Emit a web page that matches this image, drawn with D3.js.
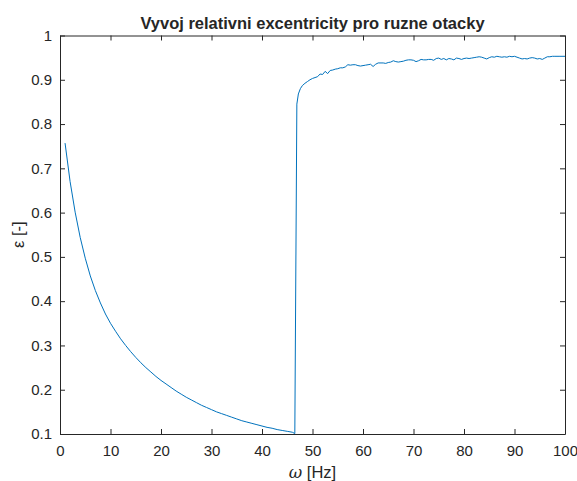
<!DOCTYPE html>
<meta charset="utf-8">
<script src="https://d3js.org/d3.v7.min.js"></script>
<style>
  body { margin: 0; background: #fff; }
  text { font-family: "Liberation Sans", Arial, sans-serif; fill: #262626; }
</style>
<div id="my_dataviz"></div>
<script>

    // frequency [Hz]
    var omega = [1, 2, 3, 4, 5, 6, 7, 8, 9, 10,
        11, 12, 13, 14, 15, 16, 17, 18, 19, 20,
        21, 22, 23, 24, 25, 26, 27, 28, 29, 30,
        31, 32, 33, 34, 35, 36, 37, 38, 39, 40,
        41, 42, 43, 44, 45, 46, 46.5,
        46.9, 47.2, 47.6, 48, 48.5, 49, 49.5, 50, 50.5, 51, 51.5, 52, 52.5, 53, 53.5, 54, 54.5, 55, 55.5,
        56, 56.5, 57, 57.5, 58, 58.5, 59, 59.5, 60, 60.5, 61, 61.5, 62, 62.5, 63, 64, 64.5, 65, 65.5,
        66, 66.5, 67, 67.5, 68, 68.5, 69, 69.5, 70, 70.5, 71, 71.5, 72, 72.5, 73, 73.5, 74, 74.5, 75, 75.5,
        76, 76.5, 77, 77.5, 78, 78.5, 79, 79.5, 80, 80.5, 81, 81.5, 82, 82.5, 83, 83.5, 84, 84.5, 85, 85.5,
        86, 86.5, 87, 87.5, 88, 88.5, 89, 89.5, 90, 90.5, 91, 91.5, 92, 92.5, 93, 93.5, 94, 94.5, 95, 95.5,
        96, 96.5, 97, 97.5, 98, 99, 100];

    // relative eccentricity [-]
    var eps = [0.757, 0.670, 0.601, 0.544, 0.497, 0.457, 0.424, 0.396, 0.371, 0.350,
        0.332, 0.315, 0.300, 0.286, 0.273, 0.261, 0.250, 0.240, 0.230, 0.221,
        0.213, 0.205, 0.197, 0.190, 0.183, 0.177, 0.171, 0.165, 0.160, 0.155,
        0.150, 0.146, 0.142, 0.138, 0.134, 0.130, 0.127, 0.124, 0.121, 0.118,
        0.115, 0.113, 0.110, 0.108, 0.106, 0.104, 0.101,
        0.845, 0.868, 0.880, 0.887, 0.892, 0.896, 0.900, 0.903, 0.905, 0.907, 0.913, 0.912, 0.919, 0.914, 0.921, 0.922, 0.924, 0.925, 0.927,
        0.927, 0.929, 0.934, 0.933, 0.934, 0.934, 0.932, 0.931, 0.932, 0.933, 0.934, 0.935, 0.930, 0.935, 0.938, 0.938, 0.937, 0.939, 0.940,
        0.943, 0.941, 0.940, 0.941, 0.942, 0.944, 0.945, 0.945, 0.944, 0.941, 0.943, 0.946, 0.945, 0.945, 0.946, 0.946, 0.944, 0.948, 0.949, 0.946,
        0.948, 0.945, 0.948, 0.947, 0.945, 0.949, 0.948, 0.946, 0.948, 0.949, 0.948, 0.949, 0.950, 0.951, 0.952, 0.951, 0.949, 0.947, 0.950, 0.952,
        0.951, 0.953, 0.952, 0.951, 0.952, 0.951, 0.953, 0.952, 0.953, 0.951, 0.949, 0.947, 0.948, 0.947, 0.949, 0.950, 0.949, 0.947, 0.948, 0.946,
        0.949, 0.952, 0.952, 0.953, 0.953, 0.953, 0.953];

    var xTicks = [0, 10, 20, 30, 40, 50, 60, 70, 80, 90, 100];
    var yTicks = [0.1, 0.2, 0.3, 0.4, 0.5, 0.6, 0.7, 0.8, 0.9, 1];

    var data = omega.map(function(d, i) { return {x: d, y: eps[i]}; });

    var margin = {top: 35.5, right: 12, bottom: 47, left: 60},
        width = 577 - margin.left - margin.right,
        height = 481 - margin.top - margin.bottom;

    var svg = d3.select("#my_dataviz")
        .append("svg")
        .attr("width", 577)
        .attr("height", 481)
        .append("g")
        .attr("transform", "translate(" + margin.left + "," + margin.top + ")");

    var x = d3.scaleLinear().domain([0, 100]).range([0, width]);
    var y = d3.scaleLinear().domain([0.1, 1]).range([height, 0]);

    // axes, MATLAB style: ticks inside, box with ticks on all sides
    function styleAxis(g) {
        g.select(".domain").attr("stroke", "#262626");
        g.selectAll(".tick line").attr("stroke", "#262626");
        g.selectAll(".tick text").style("font-size", "15px").attr("fill", "#262626");
    }

    svg.append("g")
        .attr("transform", "translate(0," + height + ")")
        .call(d3.axisBottom(x).tickValues(xTicks).tickSizeInner(-5).tickSizeOuter(0).tickPadding(11))
        .call(styleAxis);

    svg.append("g")
        .call(d3.axisTop(x).tickValues(xTicks).tickSizeInner(-5).tickSizeOuter(0).tickFormat(""))
        .call(styleAxis);

    svg.append("g")
        .call(d3.axisLeft(y).tickValues(yTicks).tickSizeInner(-5).tickSizeOuter(0).tickPadding(8)
            .tickFormat(function(d) { return d === 1 ? "1" : d3.format(".1f")(d); }))
        .call(styleAxis);

    svg.append("g")
        .attr("transform", "translate(" + width + ",0)")
        .call(d3.axisRight(y).tickValues(yTicks).tickSizeInner(-5).tickSizeOuter(0).tickFormat(""))
        .call(styleAxis);

    // the curve
    var line = d3.line()
        .x(function(d) { return x(d.x); })
        .y(function(d) { return y(d.y); });

    svg.append("path")
        .datum(data)
        .attr("fill", "none")
        .attr("stroke", "#0072BD")
        .attr("stroke-width", 1)
        .attr("d", line);

    // title and labels
    svg.append("text")
        .attr("x", width / 2)
        .attr("y", -6.5)
        .attr("text-anchor", "middle")
        .style("font-size", "16.5px")
        .style("font-weight", "bold")
        .text("Vyvoj relativni excentricity pro ruzne otacky");

    var xl = svg.append("text")
        .attr("x", width / 2)
        .attr("y", height + 44)
        .attr("text-anchor", "middle")
        .style("font-size", "16.5px");
    xl.append("tspan").style("font-style", "italic").style("font-family", "'DejaVu Serif', serif").text("ω");
    xl.append("tspan").text(" [Hz]");

    svg.append("text")
        .attr("transform", "translate(-36," + (height / 2) + ") rotate(-90)")
        .attr("text-anchor", "middle")
        .style("font-size", "16.5px")
        .text("ε [-]");

</script>
